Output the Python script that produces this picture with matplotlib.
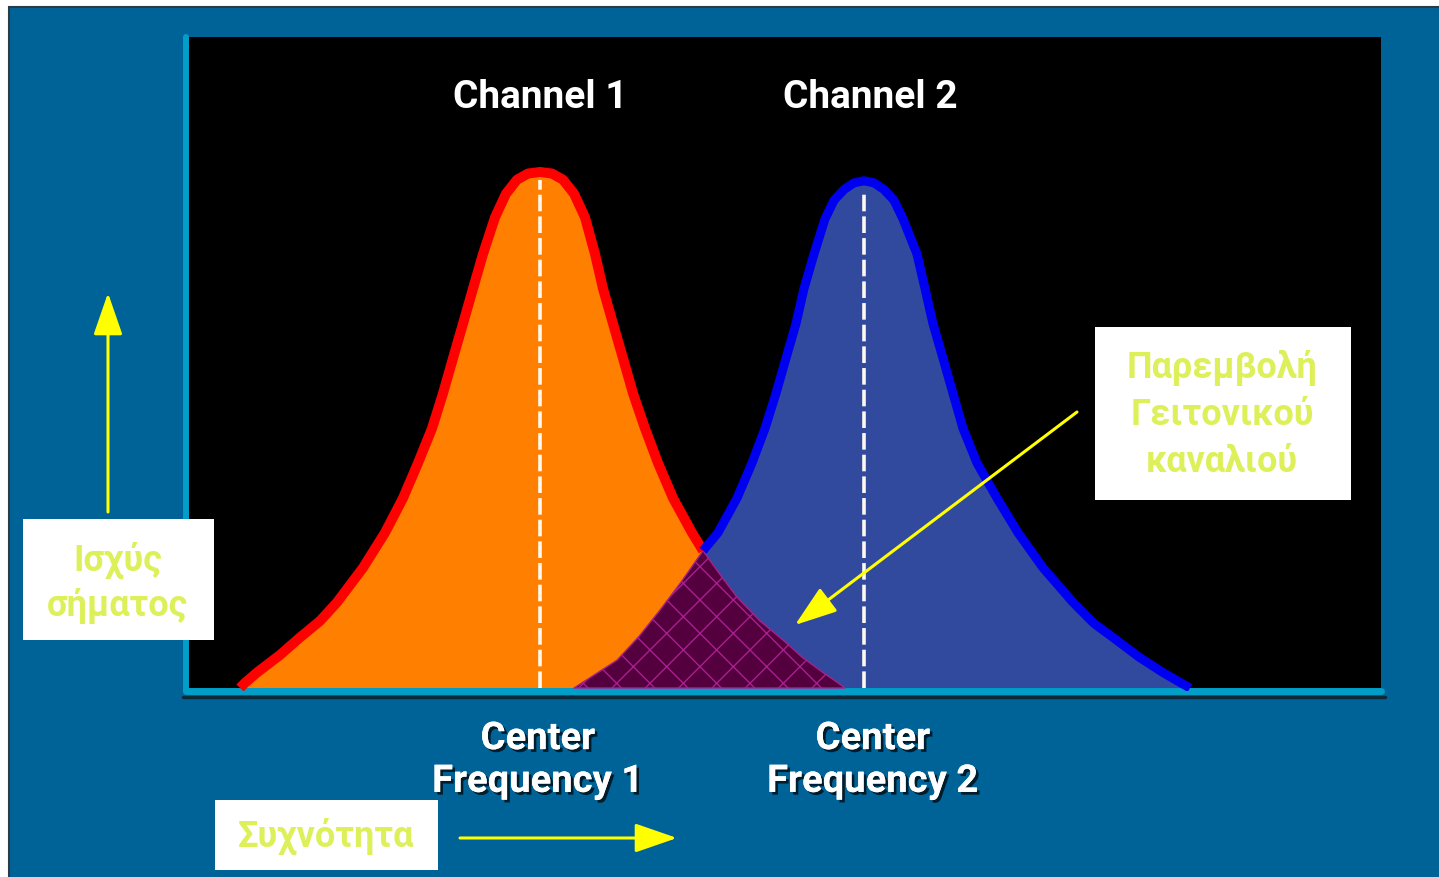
import numpy as np
import matplotlib.pyplot as plt
from matplotlib.patches import Rectangle
import matplotlib.patheffects as pe

# ------------------------------------------------------------
# data: frequency (arbitrary units) and relative signal power
# ------------------------------------------------------------
ch1_freq = [54, 59, 71, 94, 114, 134, 151, 177, 199, 217, 232, 246, 257, 267, 277, 287, 297,
            309, 320, 331, 342, 354, 366, 377, 388, 399, 409, 417, 427, 437, 447, 459, 472,
            487, 506, 517, 534, 551, 574, 597, 616, 637, 652, 659]
ch1_power = [0.0, 0.01, 0.03, 0.064, 0.098, 0.13, 0.166, 0.233, 0.301, 0.368, 0.436, 0.503,
             0.571, 0.639, 0.706, 0.774, 0.841, 0.912, 0.958, 0.985, 0.997, 1.0, 0.997, 0.985,
             0.958, 0.912, 0.841, 0.774, 0.706, 0.639, 0.571, 0.503, 0.436, 0.368, 0.301,
             0.266, 0.22, 0.176, 0.13, 0.093, 0.06, 0.03, 0.01, 0.0]

ch2_freq = [388, 408, 431, 453, 474, 495, 517, 532, 551, 566, 579, 590, 600, 610, 618, 628,
            639, 648, 658, 668, 678, 688, 698, 708, 717, 731, 739, 747, 757, 767, 777, 791,
            811, 832, 857, 887, 908, 927, 953, 977, 993, 1004]
ch2_power = [0.0, 0.025, 0.054, 0.1, 0.151, 0.205, 0.266, 0.301, 0.368, 0.436, 0.503, 0.571,
             0.639, 0.706, 0.774, 0.841, 0.909, 0.945, 0.966, 0.979, 0.983, 0.979, 0.966,
             0.945, 0.909, 0.841, 0.774, 0.706, 0.639, 0.571, 0.503, 0.436, 0.368, 0.301,
             0.233, 0.166, 0.125, 0.098, 0.06, 0.03, 0.012, 0.0]

center_freqs = [354, 678]
center_tops = [0.984, 0.965]
crossing = 517

channel_labels = ["Channel 1", "Channel 2"]
center_labels = ["Center\nFrequency 1", "Center\nFrequency 2"]

# colours
BG = "#006398"
CYAN = "#009ec8"
LABEL_YEL = "#ddf05a"
ARROW_YEL = "#ffff00"

W, H = 1439, 877
fig = plt.figure(figsize=(W / 100, H / 100), dpi=100, facecolor="white")

# background panel (pixel coords)
bg = fig.add_axes([0, 0, 1, 1], zorder=0)
bg.set_xlim(0, W)
bg.set_ylim(H, 0)
bg.axis("off")
bg.add_patch(Rectangle((9, 7), W, H, facecolor=BG, edgecolor="#2b3b45", lw=1.5))
# shadow under the axis lines
bg.plot([183, 1385], [697, 697], color="#0a2a3a", lw=2.5, solid_capstyle="round")

# ------------------------------------------------------------
# main spectrum axes
# ------------------------------------------------------------
ax = fig.add_axes([186 / W, (H - 691) / H, (1381 - 186) / W, (691 - 37) / H], zorder=1)
ax.set_facecolor("black")
ax.set_xlim(0, 1195)
ax.set_ylim(-0.0058, 1.2616)
ax.set_xticks([])
ax.set_yticks([])
for side in ["top", "right"]:
    ax.spines[side].set_visible(False)
for side in ["left", "bottom"]:
    ax.spines[side].set_color(CYAN)
    ax.spines[side].set_capstyle("round")
ax.spines["left"].set_linewidth(4.3)
ax.spines["bottom"].set_linewidth(5.0)

f1 = np.array(ch1_freq)
p1 = np.array(ch1_power)
f2 = np.array(ch2_freq)
p2 = np.array(ch2_power)

ax.fill_between(f1, 0, p1, color="#ff8000", lw=0, zorder=1)
ax.fill_between(f2, 0, p2, color="#314a9e", lw=0, zorder=2)

# overlap = blue tail left of the crossing + red tail right of it
ov_f = np.concatenate([f2[f2 <= crossing], f1[f1 > crossing]])
ov_p = np.concatenate([p2[f2 <= crossing], p1[f1 > crossing]])
plt.rcParams["hatch.linewidth"] = 1.0
ax.fill_between(ov_f, 0, ov_p, facecolor="#55003e", edgecolor="#a8208f",
                hatch="x", lw=1.0, zorder=3)

ax.plot(f1[f1 <= crossing], p1[f1 <= crossing], color="#ff0000", lw=7.2,
        solid_capstyle="butt", solid_joinstyle="round", zorder=4)
ax.plot(f2[f2 >= crossing], p2[f2 >= crossing], color="#0000f0", lw=6.5,
        solid_capstyle="butt", solid_joinstyle="round", zorder=4)

for cf, top in zip(center_freqs, center_tops):
    ax.plot([cf, cf], [0, top], color="#fff8ee", lw=2.6, dashes=(4.6, 1.4), zorder=5)

# ------------------------------------------------------------
# overlay: labels, boxes, arrows (pixel coords)
# ------------------------------------------------------------
ov = fig.add_axes([0, 0, 1, 1], zorder=2)
ov.set_xlim(0, W)
ov.set_ylim(H, 0)
ov.axis("off")
ov.patch.set_alpha(0)

cond = ["Roboto", "DejaVu Sans"]
for lab, x in zip(channel_labels, [540, 870]):
    ov.text(x, 98, lab, color="white", fontsize=28, fontweight="bold",
            family=cond, ha="center", va="center")

shadow = [pe.withSimplePatchShadow(offset=(2, -2), shadow_rgbFace="black", alpha=0.7),
          pe.Normal()]
for lab, x in zip(center_labels, [538, 873]):
    ov.text(x, 760, lab, color="white", fontsize=27.5, fontweight="bold",
            family=cond, ha="center", va="center", linespacing=1.2,
            path_effects=shadow)

greek = ["Roboto", "DejaVu Sans"]
ov.add_patch(Rectangle((23, 519), 191, 121, facecolor="white", lw=0))
ov.text(118, 583, "Ισχύς\nσήματος", color=LABEL_YEL, fontsize=26, family=greek,
        fontweight="bold", ha="center", va="center", linespacing=1.3)

ov.add_patch(Rectangle((215, 800), 223, 70, facecolor="white", lw=0))
ov.text(326, 836, "Συχνότητα", color=LABEL_YEL, fontsize=26, family=greek,
        fontweight="bold", ha="center", va="center")

ov.add_patch(Rectangle((1095, 327), 256, 173, facecolor="white", lw=0))
ov.text(1222, 415, "Παρεμβολή\nΓειτονικού\nκαναλιού", color=LABEL_YEL, fontsize=26,
        family=greek, fontweight="bold", ha="center", va="center", linespacing=1.38)

arrow = dict(arrowstyle="-|>,head_length=1.3,head_width=0.45", mutation_scale=20,
             color=ARROW_YEL, lw=2.2, shrinkA=0, shrinkB=0)
ov.annotate("", xy=(108, 293), xytext=(108, 512), arrowprops=arrow)
ov.annotate("", xy=(677, 838), xytext=(460, 838), arrowprops=arrow)
ov.annotate("", xy=(795, 625), xytext=(1077, 412), arrowprops=arrow)

fig.savefig("out.png", dpi=100, facecolor=fig.get_facecolor())
